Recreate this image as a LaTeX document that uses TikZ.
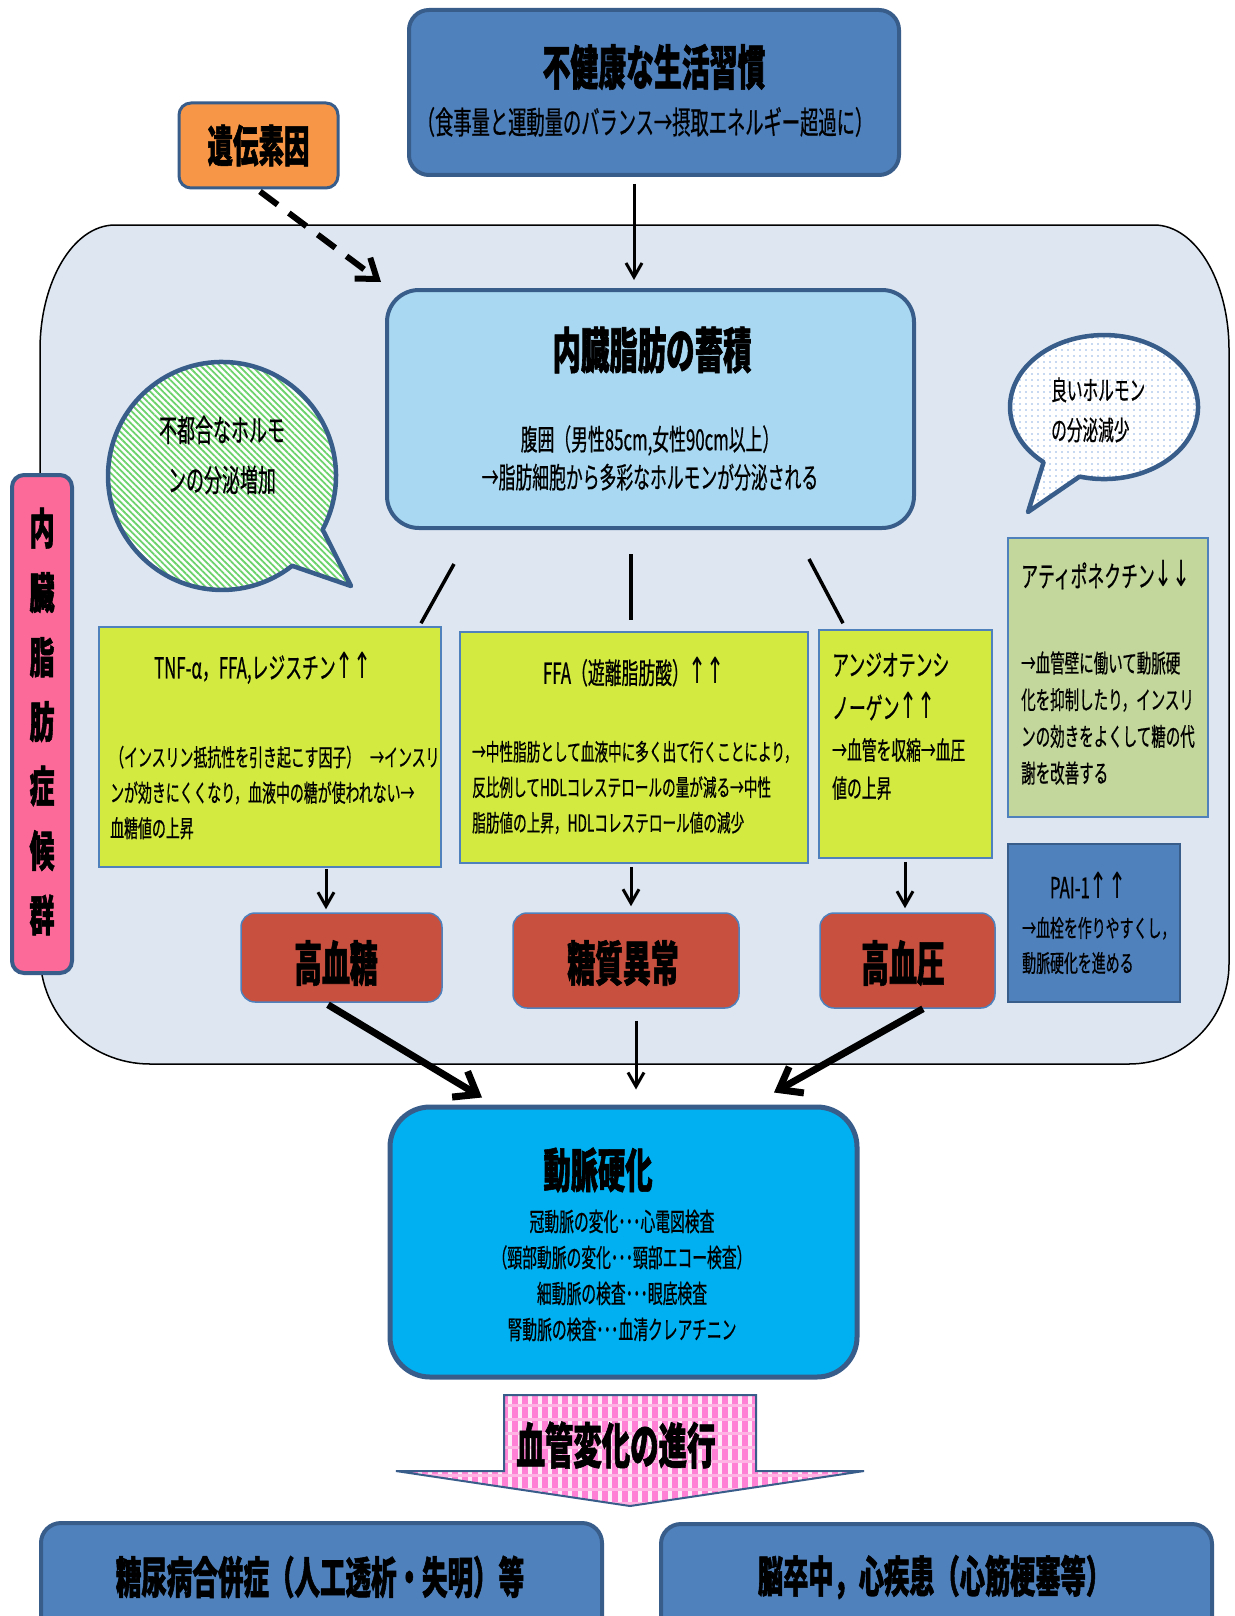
\documentclass[tikz,border=0pt]{standalone}
\usepackage{fontspec}
\setmainfont{Noto Sans CJK JP}[FakeStretch=0.58,FakeBold=0.6,BoldFeatures={FakeBold=1.2}]
\newfontfamily\arwfont{DejaVu Sans}[FakeStretch=0.6]
\newcommand\upup{{\arwfont\fontsize{36}{36}\selectfont ↑↑}}
\newcommand\dndn{{\arwfont\fontsize{36}{36}\selectfont ↓↓}}
\usetikzlibrary{arrows.meta,patterns.meta,calc}
\definecolor{dkb}{HTML}{385D8A}
\definecolor{midb}{HTML}{4F81BD}
\definecolor{orng}{HTML}{F79646}
\definecolor{bgc}{HTML}{DEE7F1}
\definecolor{fatc}{HTML}{A9D9F2}
\definecolor{ylw}{HTML}{D3EB41}
\definecolor{grn}{HTML}{C3D69B}
\definecolor{redc}{HTML}{C8503E}
\definecolor{cyanc}{HTML}{00B0F0}
\definecolor{pinkc}{HTML}{FB6A99}
\definecolor{pinka}{HTML}{FF80D4}
\definecolor{stripeg}{HTML}{6CD36C}
\definecolor{dotb}{HTML}{8DB4E2}
\newcommand\fsz[2]{\fontsize{#1}{#2}\selectfont}
\begin{document}
\begin{tikzpicture}[x=1pt,y=-1pt,
  rbox/.style={draw=dkb,line width=4pt,rounded corners=20pt,inner sep=0pt},
  sbox/.style={draw=midb,line width=1.5pt,inner sep=0pt},
  redbox/.style={draw=midb,line width=1.5pt,fill=redc,rounded corners=14pt,inner sep=0pt},
  txt/.style={inner sep=0pt,text=black},
  arrA/.style={line width=3pt,-{Straight Barb[length=14pt,width=16pt,line width=3pt]}},
  arrB/.style={line width=7pt,-{Straight Barb[length=20pt,width=30pt,line width=7pt]}},
  link/.style={line width=3.5pt},
]
\useasboundingbox (0,0) rectangle (1234,1616);
\fill[white] (0,0) rectangle (1234,1616);

% background area
\path[fill=bgc,draw=black,line width=1.5pt]
  (40,350) .. controls (40,280.96) and (73.58,225) .. (115,225)
  -- (1154,225) .. controls (1195.42,225) and (1229,280.96) .. (1229,350)
  -- (1229,964) .. controls (1229,1019.23) and (1184.23,1064) .. (1129,1064)
  -- (150,1064) .. controls (89.25,1064) and (40,1014.75) .. (40,954) -- cycle;

% top box
\node[rbox,fill=midb,minimum width=490pt,minimum height=165pt] (top) at (654,92.5) {};
\node[txt,font=\fsz{48}{52}\bfseries] (toptitle) at (654,67) {不健康な生活習慣};
\node[txt,font=\fsz{31.5}{34}] (topsub) at (645,122) {（食事量と運動量のバランス→摂取エネルギー超過に）};

% genetic factor
\node[rbox,line width=3pt,rounded corners=12pt,fill=orng,minimum width=159pt,minimum height=85pt,font=\fsz{44}{48}\bfseries] (gen) at (258.5,145.5) {遺伝素因};

% fat box
\node[rbox,rounded corners=32pt,fill=fatc,minimum width=527pt,minimum height=238pt] (fat) at (650.5,409) {};
\node[txt,font=\fsz{49}{52}\bfseries] (fattitle) at (652,350) {内臓脂肪の蓄積};
\node[txt,font=\fsz{29}{38},align=center] (fatbody) at (650,458) {腹囲（男性85cm,女性90cm以上）\\→脂肪細胞から多彩なホルモンが分泌される};

% left bubble
\path[fill=white] (322.6,529.5) -- (351,586) -- (292.2,565.8) arc[start angle=52,end angle=388,radius=114] -- cycle;
\path[pattern={Lines[angle=-45,distance=4.5pt,line width=1.8pt]},pattern color=stripeg] (322.6,529.5) -- (351,586) -- (292.2,565.8) arc[start angle=52,end angle=388,radius=114] -- cycle;
\draw[dkb,line width=4.5pt,line join=round] (322.6,529.5) -- (351,586) -- (292.2,565.8) arc[start angle=52,end angle=388,radius=114] -- cycle;
\node[txt,font=\fsz{31}{50},align=center] (bubL) at (222,455) {不都合なホルモ\\ンの分泌増加};

% right bubble
\path[fill=white] (1079.7,476.5) -- (1028,512) -- (1043.6,462.2) arc[start angle=130,end angle=465,x radius=94,y radius=72] -- cycle;
\path[pattern={Dots[distance=6pt,radius=0.9pt]},pattern color=dotb] (1079.7,476.5) -- (1028,512) -- (1043.6,462.2) arc[start angle=130,end angle=465,x radius=94,y radius=72] -- cycle;
\draw[dkb,line width=4.5pt,line join=round] (1079.7,476.5) -- (1028,512) -- (1043.6,462.2) arc[start angle=130,end angle=465,x radius=94,y radius=72] -- cycle;
\node[txt,font=\fsz{27}{40},align=left,anchor=west] (bubR) at (1051,410) {良いホルモン\\の分泌減少};

% pink label
\node[rbox,rounded corners=12pt,fill=pinkc,minimum width=60pt,minimum height=498pt] (pink) at (42,724) {};
\node[txt,font=\fsz{43}{64.5}\bfseries,align=center] (pinktxt) at (42,721.5) {内\\臓\\脂\\肪\\症\\候\\群};

% yellow boxes
\node[sbox,fill=ylw,minimum width=342pt,minimum height=240pt] (y1) at (270,747) {};
\node[txt,font=\fsz{29}{30}] (y1t) at (263,668) {TNF-α，FFA,レジスチン\upup};
\node[txt,font=\fsz{24}{35.5},align=left,anchor=west] (y1b) at (110,792.5) {（インスリン抵抗性を引き起こす因子）\hspace{10pt}→インスリ\\ンが効きにくくなり，血液中の糖が使われない→\\血糖値の上昇};

\node[sbox,fill=ylw,minimum width=348pt,minimum height=231pt] (y2) at (634,747.5) {};
\node[txt,font=\fsz{29}{30}] (y2t) at (634,672) {FFA（遊離脂肪酸）\upup};
\node[txt,font=\fsz{23.5}{35.5},align=left,anchor=west] (y2b) at (472,787.5) {→中性脂肪として血液中に多く出て行くことにより，\\反比例してHDLコレステロールの量が減る→中性\\脂肪値の上昇，HDLコレステロール値の減少};

\node[sbox,fill=ylw,minimum width=173pt,minimum height=228pt] (y3) at (905.5,744) {};
\node[txt,font=\fsz{29}{43},align=left,anchor=west] (y3t) at (832,686.5) {アンジオテンシ\\ノーゲン\upup};
\node[txt,font=\fsz{25.5}{38},align=left,anchor=west] (y3b) at (832,769) {→血管を収縮→血圧\\値の上昇};

% green box
\node[sbox,fill=grn,minimum width=200pt,minimum height=279pt] (gr) at (1108,677.5) {};
\node[txt,font=\fsz{29}{30},anchor=west] (grt) at (1021,575) {アティポネクチン\dndn};
\node[txt,font=\fsz{25}{36.7},align=left,anchor=west] (grb) at (1021,718) {→血管壁に働いて動脈硬\\化を抑制したり，インスリ\\ンの効きをよくして糖の代\\謝を改善する};

% PAI box
\node[sbox,draw=dkb,fill=midb,minimum width=172pt,minimum height=158pt] (pai) at (1094,923) {};
\node[txt,font=\fsz{29}{30}] (pait) at (1088,885) {PAI-1\upup};
\node[txt,font=\fsz{24}{35},align=left,anchor=west] (paib) at (1022,945.5) {→血栓を作りやすくし，\\動脈硬化を進める};

% red boxes
\node[redbox,minimum width=201pt,minimum height=89pt] (r1) at (341.5,957.5) {};
\node[txt,font=\fsz{48}{52}\bfseries] (r1t) at (336,963) {高血糖};
\node[redbox,minimum width=226pt,minimum height=95pt] (r2) at (626,960.5) {};
\node[txt,font=\fsz{48}{52}\bfseries] (r2t) at (623,963) {糖質異常};
\node[redbox,minimum width=175pt,minimum height=95pt] (r3) at (907.5,960.5) {};
\node[txt,font=\fsz{48}{52}\bfseries] (r3t) at (903,963) {高血圧};

% arteriosclerosis box
\node[rbox,line width=5pt,rounded corners=40pt,fill=cyanc,minimum width=467pt,minimum height=270pt] (dm) at (623.5,1242) {};
\node[txt,font=\fsz{47}{50}\bfseries] (dmt) at (598,1170) {動脈硬化};
\node[txt,font=\fsz{25.5}{36},align=center] (dmb) at (622,1275.5) {冠動脈の変化･･･心電図検査\\（頸部動脈の変化･･･頸部エコー検査）\\細動脈の検査･･･眼底検査\\腎動脈の検査･･･血清クレアチニン};

% big arrow
\path[fill=pinka] (504,1395) -- (756,1395) -- (756,1471) -- (864,1471) -- (630,1506) -- (396,1471) -- (504,1471) -- cycle;
\path[pattern={Lines[angle=90,distance=10pt,line width=4pt]},pattern color=white!85!pinka] (504,1395) -- (756,1395) -- (756,1471) -- (864,1471) -- (630,1506) -- (396,1471) -- (504,1471) -- cycle;
\path[pattern={Lines[angle=0,distance=14pt,line width=3pt]},pattern color=pinka!60!white] (504,1395) -- (756,1395) -- (756,1471) -- (864,1471) -- (630,1506) -- (396,1471) -- (504,1471) -- cycle;
\draw[dkb,line width=2pt] (504,1395) -- (756,1395) -- (756,1471) -- (864,1471) -- (630,1506) -- (396,1471) -- (504,1471) -- cycle;
\node[txt,font=\fsz{49}{52}\bfseries] (advance) at (616,1445) {血管変化の進行};

% bottom boxes
\node[rbox,fill=midb,minimum width=561pt,minimum height=134pt] (b1) at (321.5,1590) {};
\node[txt,font=\fsz{44}{48}\bfseries] (b1t) at (320,1577) {糖尿病合併症（人工透析・失明）等};
\node[rbox,fill=midb,minimum width=551pt,minimum height=132pt] (b2) at (936.5,1590) {};
\node[txt,font=\fsz{43.5}{48}\bfseries] (b2t) at (934.5,1577) {脳卒中，心疾患（心筋梗塞等）};

% connectors
\draw[arrA] ([xshift=-20pt,yshift=-7pt]top.south) -- ([xshift=-16.5pt,yshift=8pt]fat.north);
\draw[line width=6pt,dash pattern=on 22pt off 14pt,-{Straight Barb[length=18pt,width=26pt,line width=6pt]}]
  ([xshift=1.5pt,yshift=-2pt]gen.south) -- ([xshift=-4pt,yshift=6pt]fat.north west);
\draw[link] ([xshift=-196.5pt,yshift=-34pt]fat.south) -- ([xshift=151pt,yshift=3pt]y1.north);
\draw[link] ([xshift=-19.5pt,yshift=-24pt]fat.south) -- ([xshift=-3pt,yshift=11pt]y2.north);
\draw[link] ([xshift=158.5pt,yshift=-29pt]fat.south) -- ([xshift=-62.5pt,yshift=6pt]y3.north);
\draw[arrA] ([xshift=56pt,yshift=-1pt]y1.south) -- ([xshift=-15.5pt,yshift=3pt]r1.north);
\draw[arrA] ([xshift=-3pt,yshift=-3pt]y2.south) -- ([xshift=5pt,yshift=6pt]r2.north);
\draw[arrA] ([xshift=-0.5pt,yshift=-3pt]y3.south) -- ([xshift=-2.5pt,yshift=4pt]r3.north);
\draw[arrB] ([xshift=-13.5pt,yshift=-2pt]r1.south) -- ([xshift=-141.5pt,yshift=7pt]dm.north);
\draw[arrA] ([xshift=10pt,yshift=-12pt]r2.south) -- ([xshift=12.5pt,yshift=15pt]dm.north);
\draw[arrB] ([xshift=15.5pt,yshift=0pt]r3.south) -- ([xshift=150.5pt,yshift=12pt]dm.north);
\end{tikzpicture}
\end{document}
